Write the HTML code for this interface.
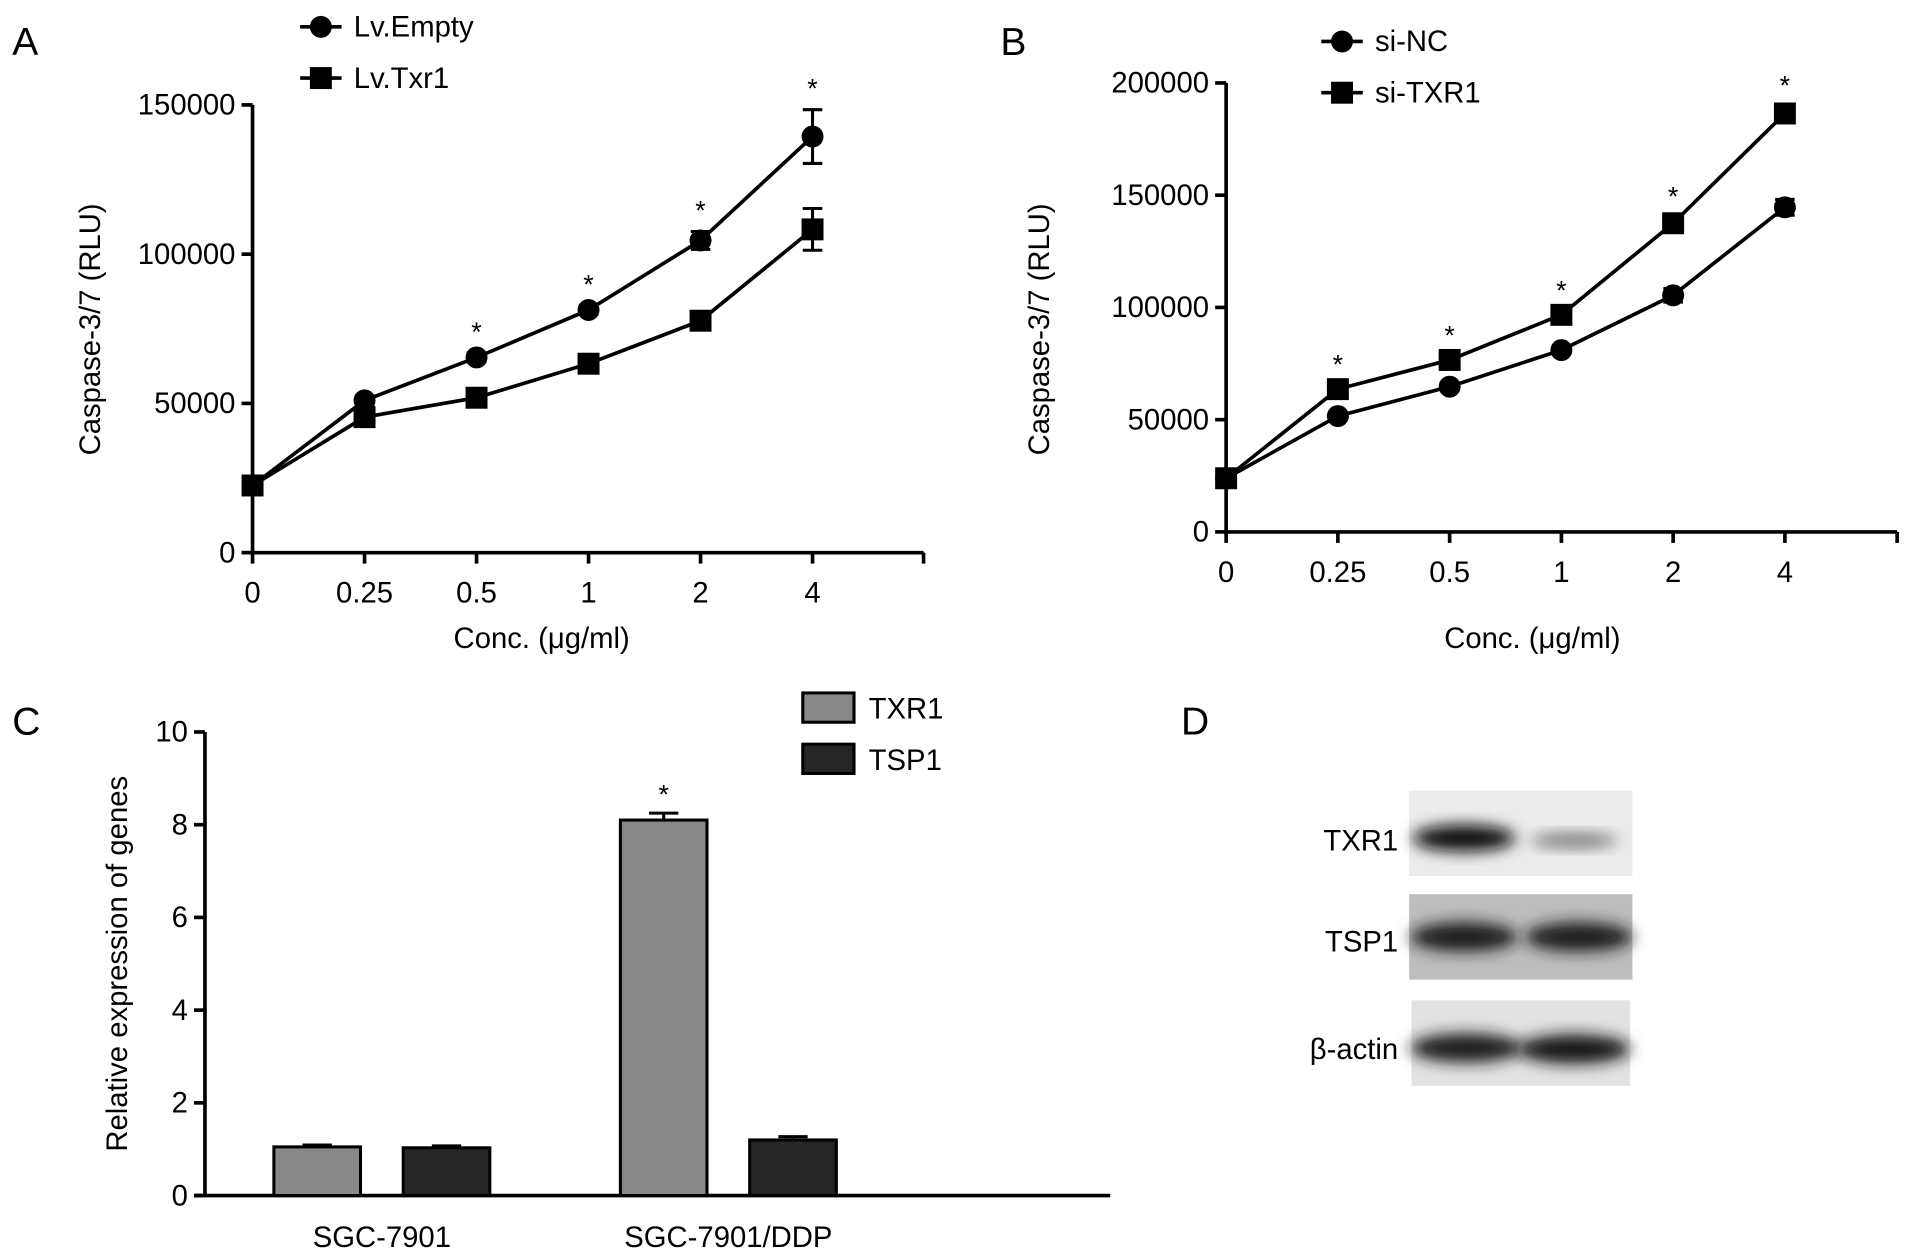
<!DOCTYPE html>
<html><head><meta charset="utf-8"><style>
html,body{margin:0;padding:0;background:#fff;}
svg{display:block;font-family:"Liberation Sans",sans-serif;}
</style></head><body>
<svg id="fig" width="1913" height="1259" viewBox="0 0 1568 1032" preserveAspectRatio="none">
<defs>
<filter id="blur6" x="-20%" y="-50%" width="140%" height="200%"><feGaussianBlur stdDeviation="6"/></filter>
</defs>
<g id="gA"></g>
<g id="gB"></g>
<g id="gC"></g>
<g id="gD">
  <text x="968" y="602" font-size="32">D</text>
  <rect x="1155" y="648" width="183" height="70" fill="#ececec"/>
  <ellipse cx="1200" cy="687" rx="42" ry="11" fill="#111" filter="url(#blur6)"/>
  <ellipse cx="1290" cy="689" rx="36" ry="6" fill="#777" filter="url(#blur6)"/>
  <rect x="1155" y="733" width="183" height="70" fill="#bdbdbd"/>
  <ellipse cx="1200" cy="768" rx="44" ry="12" fill="#1a1a1a" filter="url(#blur6)"/>
  <ellipse cx="1294" cy="768" rx="44" ry="12" fill="#1a1a1a" filter="url(#blur6)"/>
  <rect x="1157" y="820" width="179" height="70" fill="#e2e2e2"/>
  <ellipse cx="1202" cy="859" rx="46" ry="12" fill="#1a1a1a" filter="url(#blur6)"/>
  <ellipse cx="1290" cy="860" rx="46" ry="12" fill="#151515" filter="url(#blur6)"/>
  <text x="1146" y="697" font-size="24" text-anchor="end">TXR1</text>
  <text x="1146" y="780" font-size="24" text-anchor="end">TSP1</text>
  <text x="1146" y="868" font-size="24" text-anchor="end">β-actin</text>
</g>
</svg>
<script>
// Panel A data
const concLabels = ["0","0.25","0.5","1","2","4"];
const aEmpty = [22500,51000,65400,81300,104600,139400];
const aEmptyErr = [1500,1500,1500,1500,3000,9000];
const aTxr1 = [22500,45400,51900,63300,77700,108300];
const aTxr1Err = [1500,1500,1500,1500,1500,7000];
const aStars = [false,false,true,true,true,true];
const aTicks = [0,50000,100000,150000];
// Panel B data
const bNC = [23900,51600,64700,81000,105400,144600];
const bNCErr = [1500,1500,1500,1500,3000,3500];
const bTXR1 = [23900,63600,76600,96700,137500,186400];
const bTXR1Err = [1500,1500,1500,1500,2500,3000];
const bStars = [false,true,true,true,true,true];
const bTicks = [0,50000,100000,150000,200000];
// Panel C data
const cCategories = ["SGC-7901","SGC-7901/DDP"];
const cTXR1 = [1.05,8.1];
const cTXR1Err = [0.04,0.15];
const cTSP1 = [1.03,1.2];
const cTSP1Err = [0.04,0.07];
const cTicks = [0,2,4,6,8,10];

const NS="http://www.w3.org/2000/svg";
function mk(parent,tag,attrs,text){const e=document.createElementNS(NS,tag);for(const k in attrs)e.setAttribute(k,attrs[k]);if(text!==undefined)e.textContent=text;parent.appendChild(e);return e;}

function linePanel(g,o){
  const x0=o.x0,y0=o.y0,yTop=o.yTop,ymax=o.ymax,step=o.step;
  const X=i=>x0+i*step, Y=v=>y0-(v/ymax)*(y0-yTop);
  let e;
  e=mk(g,"text",{x:o.lx,y:o.ly,"font-size":32});e.textContent=o.letter;
  
  
  e=mk(g,"line",{x1:x0,y1:Y(0),x2:x0,y2:Y(o.ticks[o.ticks.length-1]),stroke:"#000","stroke-width":3});
  
  
  e=mk(g,"line",{x1:x0,y1:y0,x2:o.xEnd,y2:y0,stroke:"#000","stroke-width":3});
  
  
  o.ticks.forEach(t=>{
    mk(g,"line",{x1:x0-9,y1:Y(t),x2:x0,y2:Y(t),stroke:"#000","stroke-width":3});
    e=mk(g,"text",{x:x0-14,y:Y(t)+8,"font-size":24,"text-anchor":"end"},String(t));
    
    
  });
  concLabels.forEach((l,i)=>{
    mk(g,"line",{x1:X(i),y1:y0,x2:X(i),y2:y0+9,stroke:"#000","stroke-width":3});
    e=mk(g,"text",{x:X(i),y:y0+41,"font-size":24,"text-anchor":"middle"},l);
    
    
  });
  mk(g,"line",{x1:o.xEnd,y1:y0,x2:o.xEnd,y2:y0+9,stroke:"#000","stroke-width":3});
  e=mk(g,"text",{x:o.xtx,y:o.xty,"font-size":24,"text-anchor":"middle"},"Conc. (μg/ml)");
  
  
  e=mk(g,"text",{x:0,y:0,"font-size":24,"text-anchor":"middle",transform:`translate(${o.ytx},${o.yty}) rotate(-90)`},"Caspase-3/7 (RLU)");
  
  
  o.series.forEach(s=>{
    const pts=s.vals.map((v,i)=>X(i)+","+Y(v)).join(" ");
    e=mk(g,"polyline",{points:pts,fill:"none",stroke:"#000","stroke-width":3});
    
    
    s.vals.forEach((v,i)=>{
      const er=s.err[i];
      mk(g,"path",{d:`M${X(i)},${Y(v+er)}V${Y(v-er)}M${X(i)-8},${Y(v+er)}H${X(i)+8}M${X(i)-8},${Y(v-er)}H${X(i)+8}`,stroke:"#000","stroke-width":2.5,fill:"none"});
      if(s.shape==="circle"){e=mk(g,"circle",{cx:X(i),cy:Y(v),r:9,fill:"#000"});}
      else{e=mk(g,"rect",{x:X(i)-9,y:Y(v)-9,width:18,height:18,fill:"#000"});}
      
      
    });
    mk(g,"line",{x1:s.lgx,y1:s.lgy,x2:s.lgx+34,y2:s.lgy,stroke:"#000","stroke-width":3});
    if(s.shape==="circle")mk(g,"circle",{cx:s.lgx+17,cy:s.lgy,r:9,fill:"#000"});
    else mk(g,"rect",{x:s.lgx+8,y:s.lgy-9,width:18,height:18,fill:"#000"});
    e=mk(g,"text",{x:s.lgx+44,y:s.lgy+8,"font-size":24},s.label);
    
    
  });
  const top=o.series[o.starSeries];
  o.stars.forEach((st,i)=>{
    if(!st)return;
    const v=top.vals[i]+top.err[i];
    e=mk(g,"text",{x:X(i),y:Y(v)-10,"font-size":22,"text-anchor":"middle"},"*");
    
    
  });
}

linePanel(document.getElementById("gA"),{letter:"A",lx:10,ly:45,x0:207,y0:453,yTop:86,ymax:150000,step:91.8,xEnd:757,
  ticks:aTicks,xtx:444,xty:531,ytx:82,yty:270,stars:aStars,starSeries:0,
  series:[{name:"lv-empty",label:"Lv.Empty",vals:aEmpty,err:aEmptyErr,shape:"circle",lgx:246,lgy:22},
          {name:"lv-txr1",label:"Lv.Txr1",vals:aTxr1,err:aTxr1Err,shape:"square",lgx:246,lgy:64}]});
linePanel(document.getElementById("gB"),{letter:"B",lx:820,ly:45,x0:1005,y0:436,yTop:68,ymax:200000,step:91.6,xEnd:1555,
  ticks:bTicks,xtx:1256,xty:531,ytx:860,yty:270,stars:bStars,starSeries:1,
  series:[{name:"si-nc",label:"si-NC",vals:bNC,err:bNCErr,shape:"circle",lgx:1083,lgy:34},
          {name:"si-txr1",label:"si-TXR1",vals:bTXR1,err:bTXR1Err,shape:"square",lgx:1083,lgy:76}]});

(function(){
  const g=document.getElementById("gC");
  const x0=168,y0=980,yTop=600,ymax=10;
  const Y=v=>y0-(v/ymax)*(y0-yTop);
  const groupCenters=[313,597], bw=71, off=53;
  let e;
  e=mk(g,"text",{x:10,y:602,"font-size":32},"C");
  
  
  e=mk(g,"line",{x1:x0,y1:yTop,x2:x0,y2:y0,stroke:"#000","stroke-width":3});
  
  
  e=mk(g,"line",{x1:x0-9,y1:y0,x2:910,y2:y0,stroke:"#000","stroke-width":3});
  
  
  cTicks.forEach(t=>{
    mk(g,"line",{x1:x0-9,y1:Y(t),x2:x0,y2:Y(t),stroke:"#000","stroke-width":3});
    e=mk(g,"text",{x:x0-14,y:Y(t)+8,"font-size":24,"text-anchor":"end"},String(t));
    
    
  });
  e=mk(g,"text",{x:0,y:0,"font-size":24,"text-anchor":"middle",transform:"translate(104,790) rotate(-90)"},"Relative expression of genes");
  
  
  cCategories.forEach((c,i)=>{
    const cx=groupCenters[i];
    [[cTXR1,cTXR1Err,"#888","txr1"],[cTSP1,cTSP1Err,"#262626","tsp1"]].forEach((s,j)=>{
      const bx=cx+(j===0?-off:off)-bw/2, v=s[0][i], er=s[1][i];
      mk(g,"path",{d:`M${bx+bw/2},${Y(v)}V${Y(v+er)}M${bx+bw/2-12},${Y(v+er)}H${bx+bw/2+12}`,stroke:"#000","stroke-width":2.5});
      e=mk(g,"rect",{x:bx,y:Y(v),width:bw,height:Y(0)-Y(v),fill:s[2],stroke:"#000","stroke-width":2.5});
      
      
      if(j===0&&i===1){
        e=mk(g,"text",{x:bx+bw/2,y:Y(v+er)-8,"font-size":22,"text-anchor":"middle"},"*");
        
        
      }
    });
    e=mk(g,"text",{x:cx,y:1022,"font-size":24,"text-anchor":"middle"},c);
    
    
  });
  [["TXR1","#888",568],["TSP1","#262626",610]].forEach(l=>{
    mk(g,"rect",{x:658,y:l[2],width:42,height:24,fill:l[1],stroke:"#000","stroke-width":2.5});
    e=mk(g,"text",{x:712,y:l[2]+21,"font-size":24},l[0]);
    
    
  });
})();
</script>
</body></html>
